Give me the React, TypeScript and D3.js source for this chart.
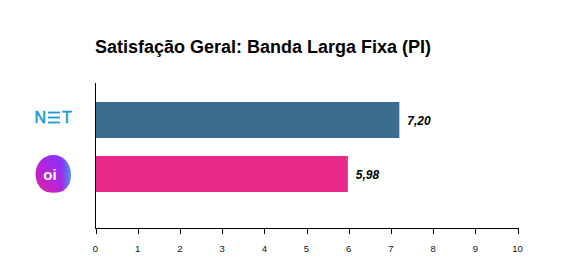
import React from "react";
import * as d3 from "d3";

const categories = ["NET", "Oi"];
const values = [7.2, 5.98];
const valueLabels = ["7,20", "5,98"];
const barColors = ["#3c6d8e", "#ea2a88"];
const tickValues = [0, 1, 2, 3, 4, 5, 6, 7, 8, 9, 10];
const title = "Satisfação Geral: Banda Larga Fixa (PI)";

const W = 569;
const H = 277;

export default function App() {
  const x = d3.scaleLinear().domain([0, 10]).range([95.5, 517.5]);
  const y = d3
    .scaleBand<string>()
    .domain(categories)
    .range([84, 210])
    .paddingInner(1 / 3)
    .paddingOuter(1 / 3);
  const baseY = 228;
  const font = "'Liberation Sans', Arial, sans-serif";

  const netY = (y("NET") as number) + y.bandwidth() / 2;
  const oiY = (y("Oi") as number) + y.bandwidth() / 2;
  const blob =
    "M -18 0 C -18 -11, -10 -19, 0 -19 C 10 -19, 16 -11, 17 -3 C 18 6, 16 14, 8 17.5 C 1 20, -7 19, -12 15 C -16 11, -18 6, -18 0 Z";

  return (
    <svg
      width={W}
      height={H}
      style={{ position: "absolute", left: 0, top: 0, background: "#fff" }}
    >
      <defs>
        <linearGradient id="oiGrad" x1="0" y1="1" x2="1" y2="0">
          <stop offset="0%" stopColor="#e0229a" />
          <stop offset="45%" stopColor="#b225e0" />
          <stop offset="80%" stopColor="#8a33f5" />
          <stop offset="100%" stopColor="#5a7ff5" />
        </linearGradient>
        <linearGradient id="oiGrad2" x1="0" y1="0" x2="1" y2="0">
          <stop offset="75%" stopColor="#3aa8f0" stopOpacity="0" />
          <stop offset="100%" stopColor="#3aa8f0" stopOpacity="0.9" />
        </linearGradient>
      </defs>
      <text
        x={95}
        y={53}
        fontFamily={font}
        fontWeight="bold"
        fontSize={18}
        fill="#000"
      >
        {title}
      </text>

      {categories.map((c, i) => (
        <g key={c}>
          <rect
            x={x(0)}
            y={y(c) as number}
            width={x(values[i]) - x(0)}
            height={y.bandwidth()}
            fill={barColors[i]}
          />
          <text
            x={x(values[i]) + 8}
            y={(y(c) as number) + y.bandwidth() / 2 + 0.5}
            dy="0.35em"
            fontFamily={font}
            fontWeight="bold"
            fontStyle="italic"
            fontSize={12}
            fill="#000"
          >
            {valueLabels[i]}
          </text>
        </g>
      ))}

      {/* axes */}
      <line x1={95.5} x2={95.5} y1={83} y2={baseY} stroke="#000" strokeWidth={1} />
      <line x1={95} x2={x(10) + 0.5} y1={baseY + 0.5} y2={baseY + 0.5} stroke="#000" strokeWidth={1} />
      {tickValues.map((t) => (
        <g key={t}>
          <line
            x1={Math.round(x(t)) + 0.5}
            x2={Math.round(x(t)) + 0.5}
            y1={baseY}
            y2={baseY + 6}
            stroke="#000"
            strokeWidth={1}
          />
          <text
            x={x(t)}
            y={249}
            dy="0.35em"
            textAnchor="middle"
            fontFamily={font}
            fontSize={9.5}
            fill="#111"
          >
            {t}
          </text>
        </g>
      ))}

      {/* NET logo */}
      <g transform={`translate(0, ${netY - 2.5})`}>
        <text
          x={34.5}
          y={5.8}
          fontFamily={font}
          fontSize={16}
          fill="#1f9ad6"
          stroke="#1f9ad6"
          strokeWidth={0.6}
        >
          N
        </text>
        {[-5, 0, 5].map((dy) => (
          <rect key={dy} x={48} y={dy - 0.9} width={12} height={1.8} fill="#1f9ad6" />
        ))}
        <text
          x={62}
          y={5.8}
          fontFamily={font}
          fontSize={16}
          fill="#1f9ad6"
          stroke="#1f9ad6"
          strokeWidth={0.6}
          textLength={16.5}
        >
          T
        </text>
      </g>

      {/* Oi logo */}
      <g transform={`translate(53.5, ${oiY})`}>
        <path d={blob} fill="url(#oiGrad)" />
        <path d={blob} fill="url(#oiGrad2)" />
        <text
          x={-3.5}
          y={5.5}
          textAnchor="middle"
          fontFamily={font}
          fontWeight="bold"
          fontSize={15}
          fill="#fff"
        >
          oi
        </text>
      </g>
    </svg>
  );
}
